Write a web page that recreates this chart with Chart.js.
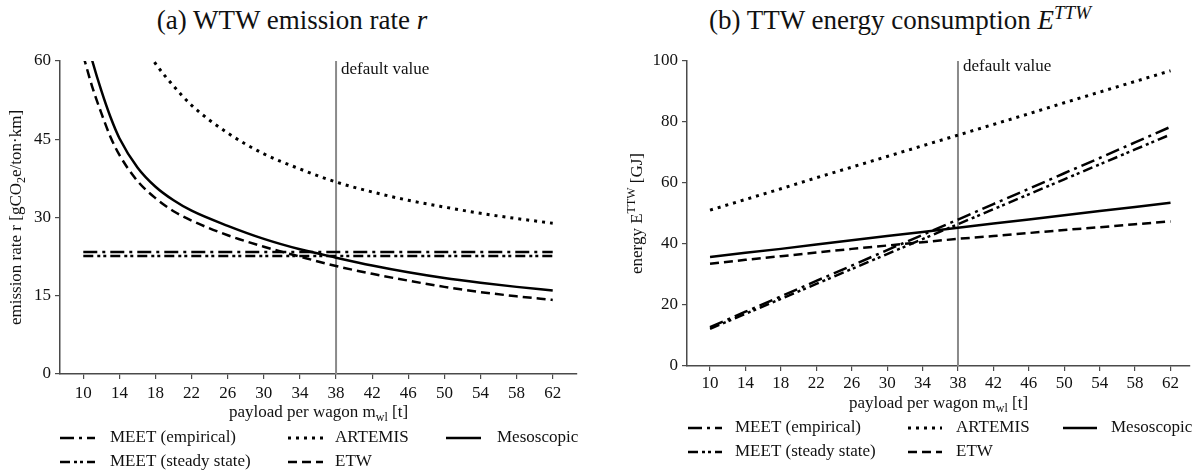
<!DOCTYPE html>
<html>
<head>
<meta charset="utf-8">
<title>Payload per wagon</title>
<script src="https://cdn.jsdelivr.net/npm/chart.js@4.4.0/dist/chart.umd.min.js"></script>
<style>
    body { margin: 0; background: #fff; }
    #wrap { position: relative; width: 1201px; height: 475px; font-family: "Liberation Serif", "Times New Roman", serif; color: #111; }
    .title { position: absolute; top: 4px; font-size: 27px; line-height: 32px; white-space: nowrap; transform: translateX(-50%); }
    .title sup { font-size: 19px; vertical-align: 10px; line-height: 0; }
    canvas { position: absolute; top: 0; }
    #chartRate { left: 0; }
    #chartEnergy { left: 600px; }
</style>
</head>
<body>
<div id="wrap">
    <div class="title" style="left:292px">(a) WTW emission rate <i>r</i></div>
    <div class="title" style="left:900px">(b) TTW energy consumption <i>E</i><sup><i>TTW</i></sup></div>
    <canvas id="chartRate" width="600" height="475"></canvas>
    <canvas id="chartEnergy" width="601" height="475"></canvas>
</div>
<script>
// Values

// x tick labels, payload per wagon [t]
const payloadTicks = [10, 14, 18, 22, 26, 30, 34, 38, 42, 46, 50, 54, 58, 62];
// finer x positions for the curved series in (a)
const payloadFine = [10, 11, 12, 13, 14, 16, 18, 20, 22, 26, 30, 34, 38, 42, 46, 50, 54, 58, 62];
const defaultPayload = 38;

// (a) WTW emission rate r [gCO2e/ton-km]
const rateTicks = [0, 15, 30, 45, 60];
const rateMesoscopic = [66.5, 60.0, 54.3, 49.3, 45.2, 39.6, 35.9, 33.3, 31.3, 28.4, 25.9, 23.9, 22.3, 20.8, 19.5, 18.4, 17.5, 16.7, 16.0];
const rateETW = [61.0, 55.0, 50.0, 45.5, 42.0, 37.0, 33.7, 31.2, 29.4, 26.6, 24.4, 22.5, 20.7, 19.2, 17.9, 16.7, 15.7, 14.9, 14.2];
const rateARTEMIS = [null, null, null, null, null, 65.0, 59.5, 55.2, 51.5, 46.2, 42.2, 39.3, 36.8, 34.9, 33.3, 32.0, 30.8, 29.8, 28.9];
const rateMEETEmpirical = [23.4, 23.4, 23.4, 23.4, 23.4, 23.4, 23.4, 23.4, 23.4, 23.4, 23.4, 23.4, 23.4, 23.4];
const rateMEETSteady = [22.6, 22.6, 22.6, 22.6, 22.6, 22.6, 22.6, 22.6, 22.6, 22.6, 22.6, 22.6, 22.6, 22.6];

// (b) TTW energy consumption [GJ]
const energyTicks = [0, 20, 40, 60, 80, 100];
const energyMEETEmpirical = [12.7, 17.8, 22.8, 27.9, 32.9, 38.0, 43.0, 48.0, 53.1, 58.1, 63.2, 68.2, 73.3, 78.4];
const energyMEETSteady = [12.2, 17.1, 22.0, 26.9, 31.8, 36.7, 41.6, 46.5, 51.4, 56.3, 61.2, 66.1, 71.0, 75.9];
const energyARTEMIS = [51.1, 54.6, 58.1, 61.7, 65.2, 68.7, 72.2, 75.7, 79.2, 82.7, 86.3, 89.8, 93.3, 96.8];
const energyMesoscopic = [35.7, 37.1, 38.4, 39.8, 41.2, 42.6, 43.9, 45.3, 46.7, 48.0, 49.4, 50.8, 52.1, 53.5];
const energyETW = [33.5, 34.8, 36.0, 37.2, 38.4, 39.5, 40.6, 41.7, 42.6, 43.6, 44.6, 45.5, 46.5, 47.4];

const FONT = '"Liberation Serif", "Times New Roman", serif';
const INK = '#111';
const AXIS = '#4a4a4a';

// line styles for each method
const styles = {
    'MEET (empirical)': { borderDash: [14, 5, 3, 5], borderWidth: 2.5 },
    'ARTEMIS': { borderDash: [3, 5], borderWidth: 3 },
    'Mesoscopic': { borderDash: [], borderWidth: 2.5 },
    'MEET (steady state)': { borderDash: [10, 4, 3, 3, 3, 4], borderWidth: 2.5 },
    'ETW': { borderDash: [9, 5], borderWidth: 2.5 }
};

function points(xs, ys) {
    return xs.map((x, i) => ({ x: x, y: ys[i] }));
}

function series(label, xs, ys, curved) {
    return Object.assign({
        label: label,
        data: points(xs, ys),
        borderColor: '#000',
        borderCapStyle: 'butt',
        pointRadius: 0,
        fill: false,
        tension: curved ? 0.4 : 0,
        cubicInterpolationMode: curved ? 'monotone' : 'default'
    }, styles[label]);
}

// draw a string made of parts: [text, 'sub' | 'sup' | '']
function drawRich(ctx, parts, x, y, size) {
    const small = Math.round(size * 0.68);
    let total = 0;
    const widths = parts.map(p => {
        ctx.font = (p[1] ? small : size) + 'px ' + FONT;
        const w = ctx.measureText(p[0]).width;
        total += w;
        return w;
    });
    let cx = x - total / 2;
    parts.forEach((p, i) => {
        ctx.font = (p[1] ? small : size) + 'px ' + FONT;
        let dy = 0;
        if (p[1] === 'sub') dy = size * 0.28;
        if (p[1] === 'sup') dy = -size * 0.38;
        ctx.fillText(p[0], cx, y + dy);
        cx += widths[i];
    });
}

// axis titles, legend and the "default value" label
const decorPlugin = {
    id: 'decor',
    afterDraw(chart, args, opts) {
        const ctx = chart.ctx;
        const area = chart.chartArea;
        const xScale = chart.scales.x;
        ctx.save();
        ctx.fillStyle = INK;
        ctx.textBaseline = 'middle';
        ctx.textAlign = 'left';

        ctx.font = '17px ' + FONT;
        ctx.fillText('default value', xScale.getPixelForValue(defaultPayload) + 5, opts.defaultLabelY);

        drawRich(ctx, opts.xTitle, (area.left + area.right) / 2, opts.xTitleY, 17);

        ctx.save();
        ctx.translate(opts.yTitleX, (area.top + area.bottom) / 2);
        ctx.rotate(-Math.PI / 2);
        drawRich(ctx, opts.yTitle, 0, 0, 17);
        ctx.restore();

        // legend: 3 columns, row-major
        const lg = opts.legend;
        chart.data.datasets.forEach((ds, i) => {
            if (!styles[ds.label]) return;
            const col = i % 3;
            const row = Math.floor(i / 3);
            const y = lg.rows[row];
            const x0 = lg.sampleX[col];
            ctx.save();
            ctx.strokeStyle = '#000';
            ctx.lineWidth = ds.borderWidth;
            ctx.setLineDash(ds.borderDash);
            ctx.beginPath();
            ctx.moveTo(x0, y);
            ctx.lineTo(x0 + lg.sampleLen, y);
            ctx.stroke();
            ctx.restore();
            ctx.font = '17px ' + FONT;
            ctx.fillText(ds.label, lg.textX[col], y);
        });
        ctx.restore();
    }
};

function makeChart(id, c) {
    const tickFont = { family: FONT, size: 17 };
    return new Chart(document.getElementById(id), {
        type: 'line',
        data: { datasets: c.datasets },
        plugins: [decorPlugin],
        options: {
            responsive: false,
            animation: false,
            devicePixelRatio: 1,
            layout: { padding: { top: c.top, right: c.right, left: 0, bottom: 0 } },
            scales: {
                x: {
                    type: 'linear',
                    min: c.xMin,
                    max: c.xMax,
                    afterBuildTicks: s => { s.ticks = payloadTicks.map(v => ({ value: v })); },
                    afterFit: s => { s.height = c.xAxisHeight; },
                    grid: { drawOnChartArea: false, tickLength: 5, color: AXIS, lineWidth: 1.2 },
                    border: { color: AXIS, width: 1.5 },
                    ticks: { font: tickFont, color: INK, padding: c.xTickPad, maxRotation: 0, autoSkip: false }
                },
                y: {
                    min: 0,
                    max: c.yTicks[c.yTicks.length - 1],
                    afterBuildTicks: s => { s.ticks = c.yTicks.map(v => ({ value: v })); },
                    afterFit: s => { s.width = c.yAxisWidth; },
                    grid: { drawOnChartArea: false, tickLength: 5, color: AXIS, lineWidth: 1.2 },
                    border: { color: AXIS, width: 1.5 },
                    ticks: { font: tickFont, color: INK, padding: 4, autoSkip: false }
                }
            },
            plugins: {
                legend: { display: false },
                tooltip: { enabled: false },
                decor: c.decor
            }
        }
    });
}

function defaultLine(yMax) {
    return {
        label: 'default value',
        data: [{ x: defaultPayload, y: 0 }, { x: defaultPayload, y: yMax }],
        borderColor: '#8a8a8a',
        borderWidth: 2,
        pointRadius: 0
    };
}

const xTitle = [['payload per wagon m', ''], ['wl', 'sub'], [' [t]', '']];

makeChart('chartRate', {
    top: 61, right: 23, xMin: 7.42, xMax: 64.69,
    xAxisHeight: 101, yAxisWidth: 60, xTickPad: 4,
    yTicks: rateTicks,
    datasets: [
        series('MEET (empirical)', payloadTicks, rateMEETEmpirical, false),
        series('ARTEMIS', payloadFine, rateARTEMIS, true),
        series('Mesoscopic', payloadFine, rateMesoscopic, true),
        series('MEET (steady state)', payloadTicks, rateMEETSteady, false),
        series('ETW', payloadFine, rateETW, true),
        defaultLine(60)
    ],
    decor: {
        defaultLabelY: 70,
        xTitle: xTitle, xTitleY: 413,
        yTitle: [['emission rate r [gCO', ''], ['2', 'sub'], ['e/ton·km]', '']], yTitleX: 17,
        legend: { rows: [438, 462], sampleX: [60, 288, 446], textX: [110, 335, 497], sampleLen: 35 }
    }
});

makeChart('chartEnergy', {
    top: 61, right: 11, xMin: 7.4, xMax: 64.2,
    xAxisHeight: 109, yAxisWidth: 87, xTickPad: 2,
    yTicks: energyTicks,
    datasets: [
        series('MEET (empirical)', payloadTicks, energyMEETEmpirical, false),
        series('ARTEMIS', payloadTicks, energyARTEMIS, false),
        series('Mesoscopic', payloadTicks, energyMesoscopic, false),
        series('MEET (steady state)', payloadTicks, energyMEETSteady, false),
        series('ETW', payloadTicks, energyETW, false),
        defaultLine(100)
    ],
    decor: {
        defaultLabelY: 67,
        xTitle: xTitle, xTitleY: 404,
        yTitle: [['energy E', ''], ['TTW', 'sup'], [' [GJ]', '']], yTitleX: 38,
        legend: { rows: [428, 452], sampleX: [88, 308, 463], textX: [135, 356, 511], sampleLen: 34 }
    }
});
</script>
</body>
</html>
